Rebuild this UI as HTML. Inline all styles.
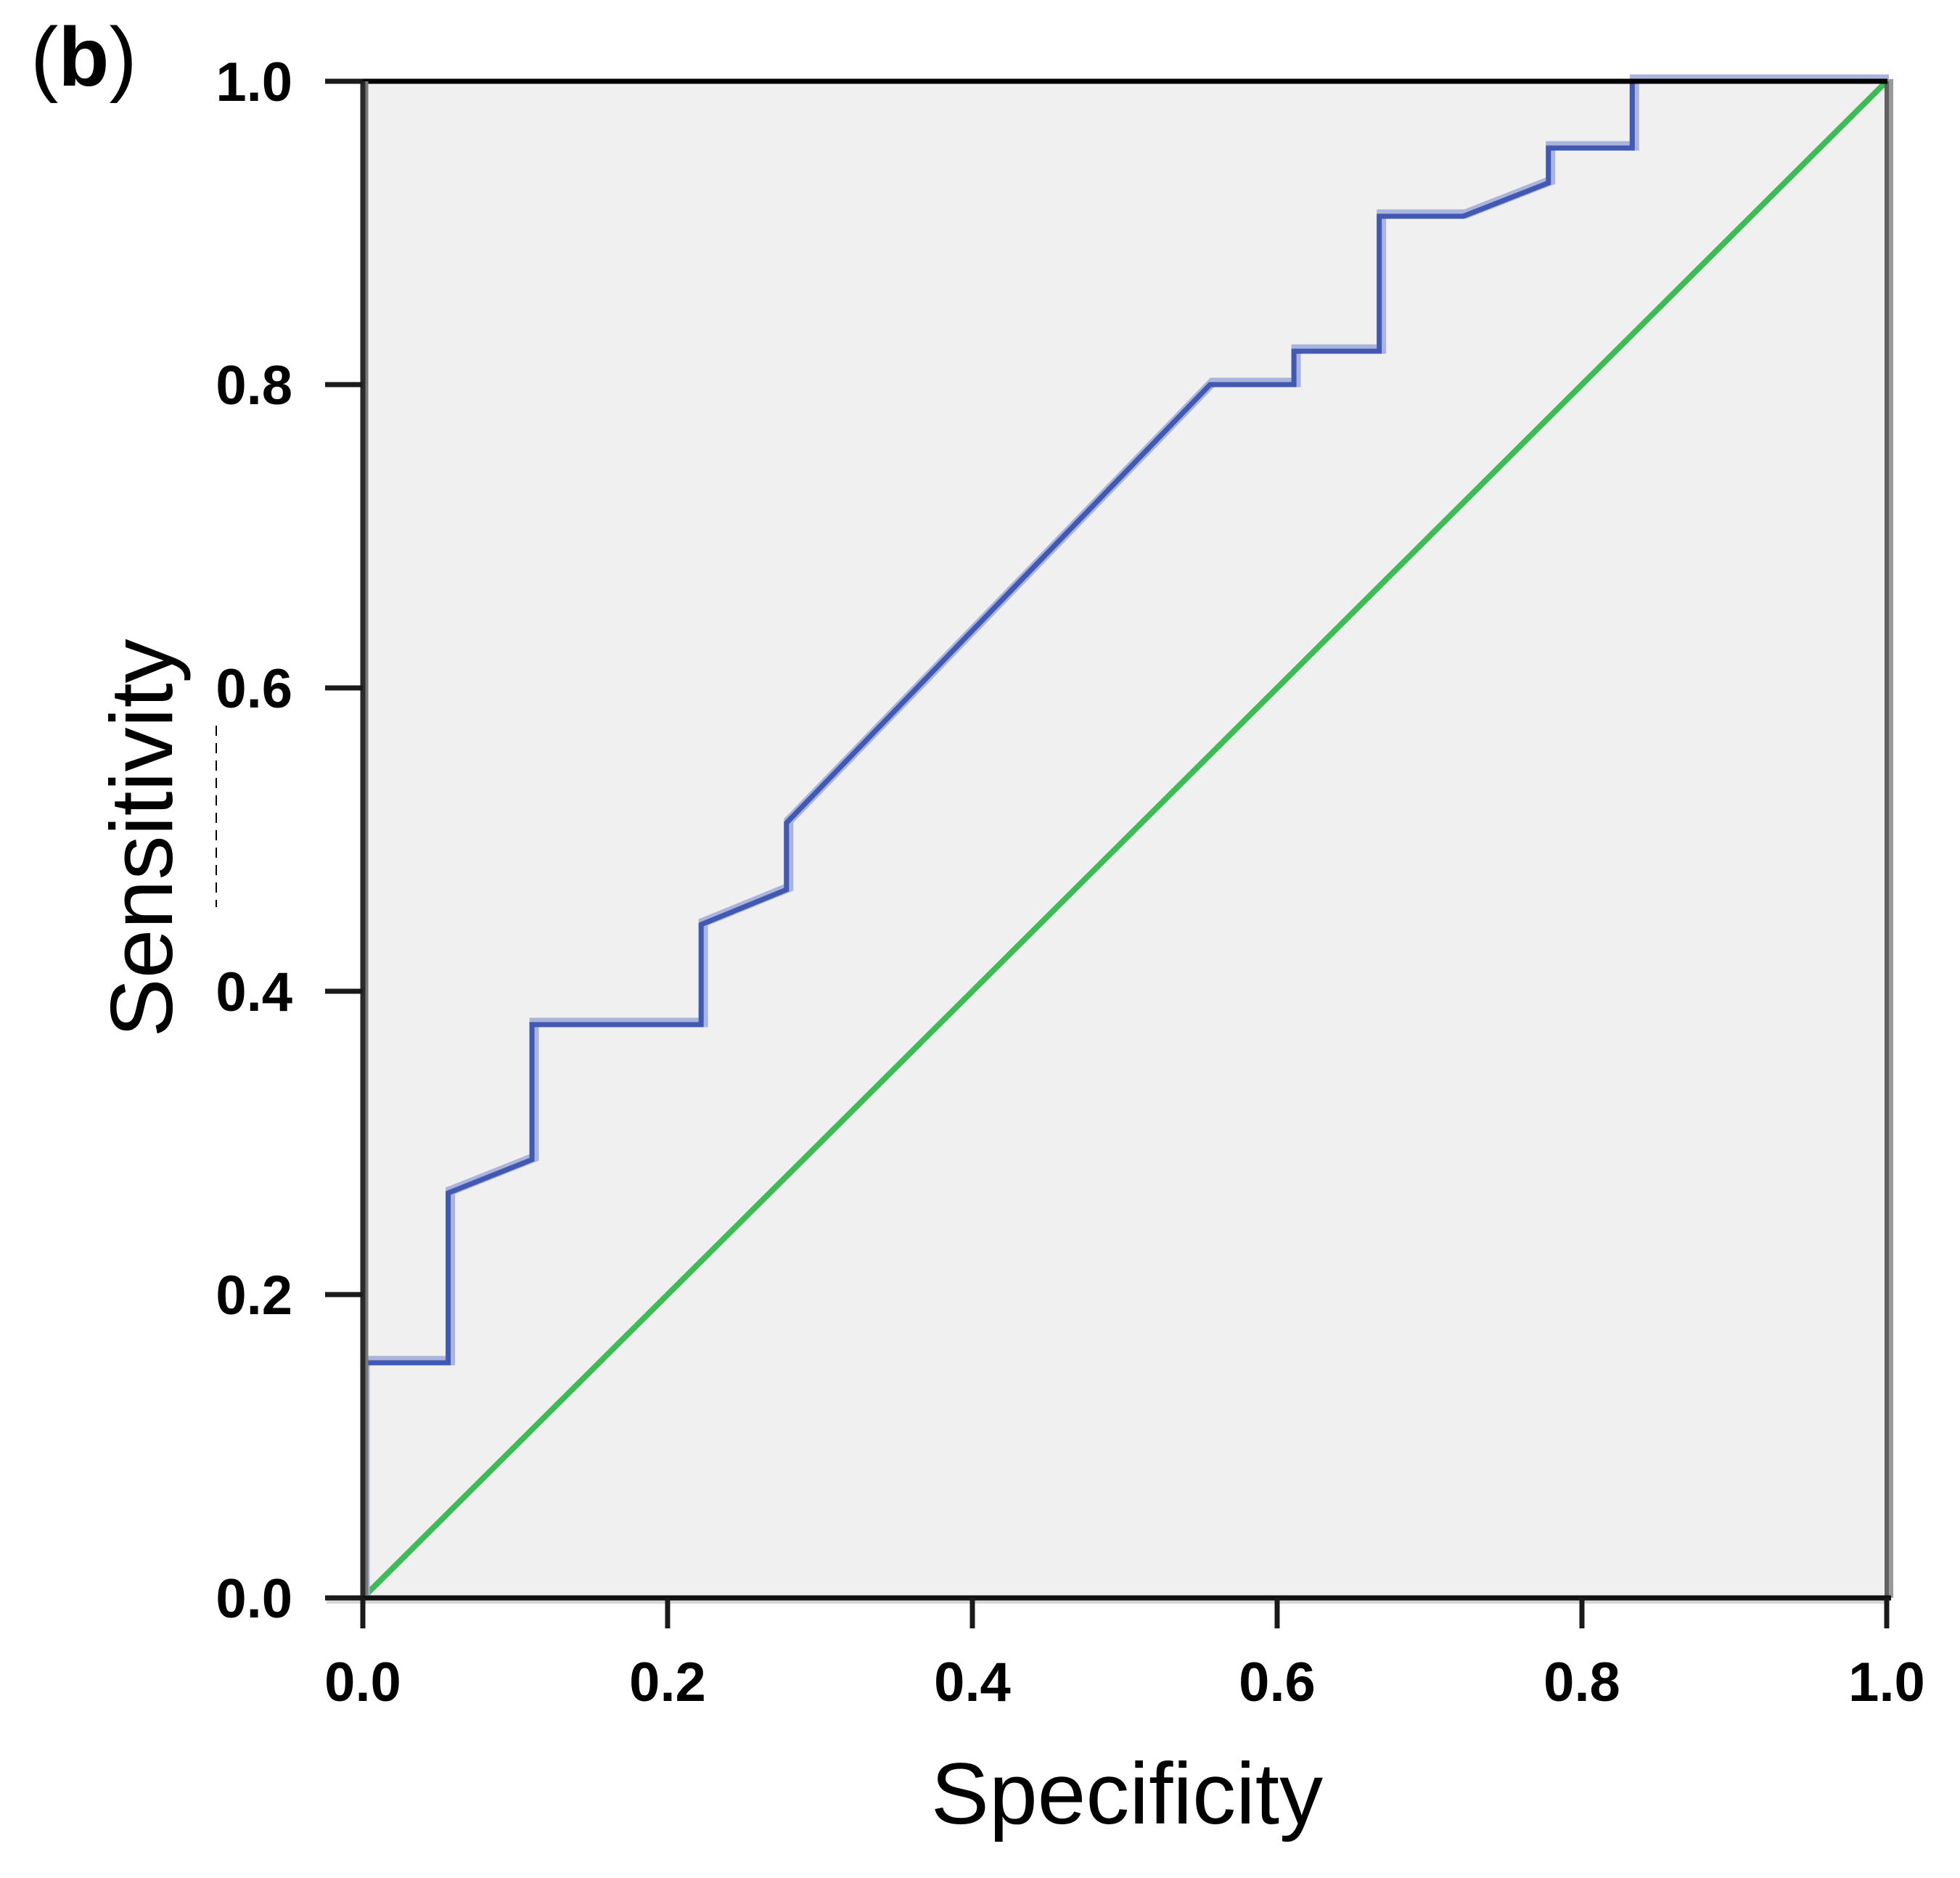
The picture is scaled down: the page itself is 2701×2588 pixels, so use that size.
<!DOCTYPE html>
<html><head><meta charset="utf-8"><style>
html,body{margin:0;padding:0;background:#fff;}
svg{display:block;}
</style></head><body>
<svg id="chart" width="2701" height="2588" viewBox="0 0 2701 2588" xmlns="http://www.w3.org/2000/svg" font-family="'Liberation Sans', sans-serif">
<text x="42" y="118" font-size="115">(<tspan font-weight="bold">b</tspan>)</text>
<g id="plot"></g>
<text transform="translate(237,1155) rotate(-90)" text-anchor="middle" font-size="122">Sensitivity</text>
<line x1="298" y1="1000" x2="298" y2="1250" stroke="#000" stroke-width="2" stroke-dasharray="14,10"/>
<text x="1553" y="2513" text-anchor="middle" font-size="120">Specificity</text>
</svg>
<script>
const rocX = [0,0,0.056,0.056,0.111,0.111,0.222,0.222,0.278,0.278,0.556,0.611,0.611,0.667,0.667,0.722,0.778,0.778,0.833,0.833,1.0];
const rocY = [0,0.155,0.155,0.267,0.289,0.378,0.378,0.444,0.467,0.511,0.8,0.8,0.822,0.822,0.911,0.911,0.933,0.956,0.956,1.0,1.0];
const refX = [0,1];
const refY = [0,1];
const xTicks = [0,0.2,0.4,0.6,0.8,1.0];
const yTicks = [0,0.2,0.4,0.6,0.8,1.0];
const xTickLabels = ["0.0","0.2","0.4","0.6","0.8","1.0"];
const yTickLabels = ["0.0","0.2","0.4","0.6","0.8","1.0"];

const X0=500,X1=2600,Y0=2202,Y1=112;
const sx=v=>X0+(X1-X0)*v;
const sy=v=>Y0-(Y0-Y1)*v;
const NS="http://www.w3.org/2000/svg";
const g=document.getElementById('plot');
function mk(tag,attrs){const e=document.createElementNS(NS,tag);for(const k in attrs)e.setAttribute(k,attrs[k]);g.appendChild(e);return e;}

let e=mk('rect',{x:X0,y:Y1,width:X1-X0,height:Y0-Y1,fill:'#f0f0f0'});



let pr=refX.map((v,i)=>sx(v)+','+sy(refY[i])).join(' ');
e=mk('polyline',{points:pr,fill:'none',stroke:'#3dbb55','stroke-width':8});



let pts=rocX.map((v,i)=>sx(v)+','+sy(rocY[i])).join(' ');
e=mk('polyline',{points:pts,fill:'none',stroke:'#aab4dc','stroke-width':13,transform:'translate(3,-3)'});


e=mk('polyline',{points:pts,fill:'none',stroke:'#4159b2','stroke-width':7});



e=mk('line',{x1:X1+3,y1:Y1-3,x2:X1+3,y2:Y0,stroke:'#9a9a9a','stroke-width':12});


mk('line',{x1:X1,y1:Y1,x2:X1,y2:Y0,stroke:'#606060','stroke-width':6});
e=mk('line',{x1:X0,y1:Y1,x2:X1+1,y2:Y1,stroke:'#000','stroke-width':7});


mk('line',{x1:X0+4,y1:Y0-4,x2:X0+4,y2:Y1,stroke:'#7a7a7a','stroke-width':7});
e=mk('line',{x1:X0,y1:Y0+40,x2:X0,y2:Y1,stroke:'#2a2a2a','stroke-width':7});


mk('line',{x1:X0-50,y1:Y0+5,x2:X1,y2:Y0+5,stroke:'#d8d8d8','stroke-width':6});
e=mk('line',{x1:X0-50,y1:Y0,x2:X1+6,y2:Y0,stroke:'#111','stroke-width':7});



xTicks.forEach((v,i)=>{
  const t=mk('line',{x1:sx(v),y1:Y0,x2:sx(v),y2:Y0+42,stroke:'#1a1a1a','stroke-width':7});
  
  
  const l=mk('text',{x:sx(v),y:2344,'text-anchor':'middle','font-size':76,'font-weight':'bold'});
  l.textContent=xTickLabels[i];
  
  
});
yTicks.forEach((v,i)=>{
  const t=mk('line',{x1:X0-52,y1:sy(v),x2:X0,y2:sy(v),stroke:'#1a1a1a','stroke-width':7});
  
  
  const l=mk('text',{x:403,y:sy(v)+27,'text-anchor':'end','font-size':76,'font-weight':'bold'});
  l.textContent=yTickLabels[i];
  
  
});
</script>
</body></html>
